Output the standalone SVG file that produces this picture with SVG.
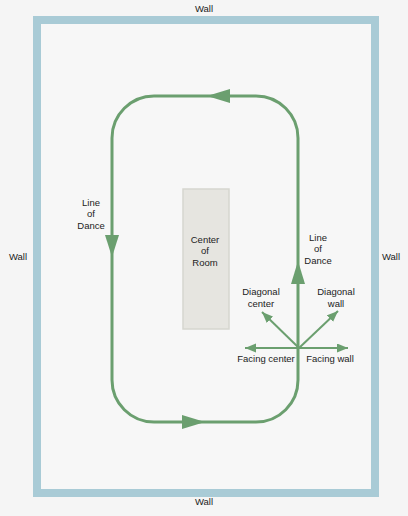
<svg xmlns="http://www.w3.org/2000/svg" width="408" height="516" viewBox="0 0 408 516">
<style>
text{font-family:"Liberation Sans",Arial,sans-serif;font-size:9.5px;fill:#222;text-anchor:middle}
.loop{fill:none;stroke:#6b9f6f;stroke-width:3}
.dir{fill:none;stroke:#6b9f6f;stroke-width:2}
.head{fill:#6b9f6f}
</style>
<defs>
<marker id="ah" markerUnits="userSpaceOnUse" markerWidth="12" markerHeight="10" refX="11" refY="4.5" orient="auto">
<path d="M0,0 L11,4.5 L0,9 Z" fill="#6b9f6f"/>
</marker>
</defs>
<rect x="0" y="0" width="408" height="516" fill="#f5f5f5"/>
<g id="walls">
<rect x="37" y="20" width="338" height="473" fill="#f7f7f7" stroke="#a9cbd6" stroke-width="8"/>
<text x="204" y="12">Wall</text>
<text x="204" y="505">Wall</text>
<text x="18" y="260">Wall</text>
<text x="391" y="260">Wall</text>
</g>
<g id="center">
<rect x="183" y="189" width="46" height="140" fill="#e6e5e0" stroke="#d6d6cf" stroke-width="1.5"/>
<text x="205" y="243">Center</text>
<text x="205" y="254">of</text>
<text x="205" y="266">Room</text>
</g>
<g id="connectors">
<path class="loop" d="M154,96 H256 A42,42 0 0 1 298,138 V380 A42,42 0 0 1 256,422 H154 A42,42 0 0 1 112,380 V138 A42,42 0 0 1 154,96 Z"/>
<polygon class="head" points="207,96 230,89 230,103"/>
<polygon class="head" points="205,422 182,415 182,429"/>
<polygon class="head" points="112,257 105,235 119,235"/>
<polygon class="head" points="298,261 291,284 305,284"/>
<line class="dir" x1="299" y1="348" x2="245" y2="348" marker-end="url(#ah)"/>
<line class="dir" x1="299" y1="348" x2="348" y2="348" marker-end="url(#ah)"/>
<line class="dir" x1="299" y1="348" x2="262" y2="312" marker-end="url(#ah)"/>
<line class="dir" x1="299" y1="348" x2="338" y2="311" marker-end="url(#ah)"/>
</g>
<g id="labels">
<text x="91" y="206">Line</text>
<text x="91" y="217">of</text>
<text x="91" y="229">Dance</text>
<text x="318" y="241">Line</text>
<text x="318" y="252">of</text>
<text x="318" y="264">Dance</text>
<text x="261" y="295">Diagonal</text>
<text x="261" y="307">center</text>
<text x="336" y="295">Diagonal</text>
<text x="336" y="307">wall</text>
<text x="266" y="362">Facing center</text>
<text x="330" y="362">Facing wall</text>
</g>
</svg>
